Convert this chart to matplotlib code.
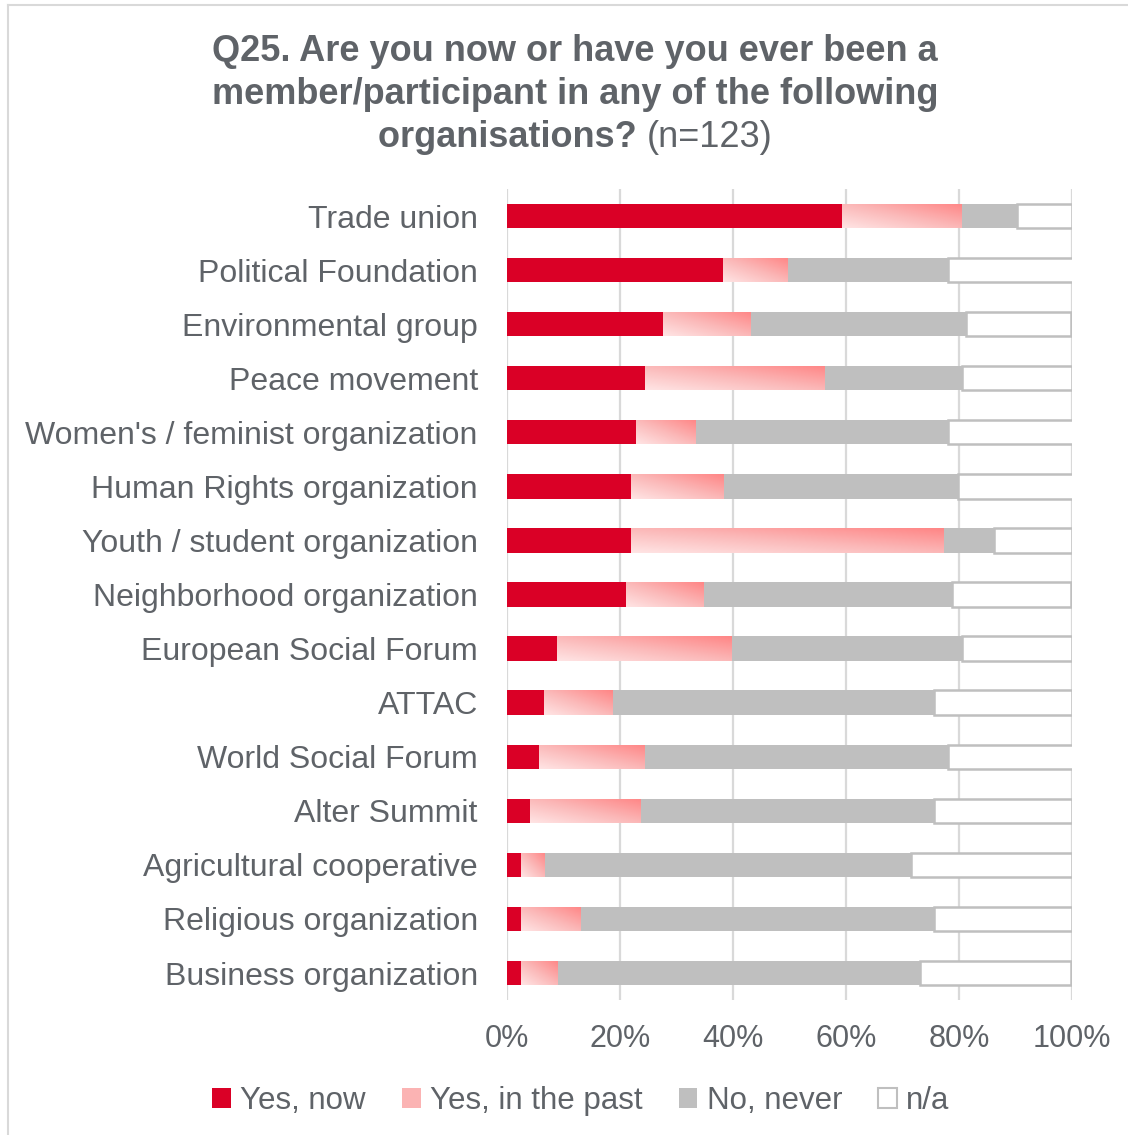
import numpy as np
import matplotlib
matplotlib.use("Agg")
import matplotlib.pyplot as plt
from matplotlib.colors import LinearSegmentedColormap
from matplotlib.patches import Patch
from matplotlib.lines import Line2D

# data (percent of n=123)
organisations = [
    "Trade union", "Political Foundation", "Environmental group", "Peace movement",
    "Women's / feminist organization", "Human Rights organization",
    "Youth / student organization", "Neighborhood organization",
    "European Social Forum", "ATTAC", "World Social Forum", "Alter Summit",
    "Agricultural cooperative", "Religious organization", "Business organization",
]
yes_now = [59.3, 38.2, 27.6, 24.4, 22.8, 22.0, 22.0, 21.1, 8.9, 6.5, 5.7, 4.1, 2.4, 2.4, 2.4]
yes_past = [21.1, 11.4, 15.4, 31.7, 10.6, 16.3, 55.3, 13.8, 30.9, 12.2, 18.7, 19.5, 4.1, 10.6, 6.5]
no_never = [9.8, 28.5, 38.2, 24.4, 44.7, 41.5, 8.9, 43.9, 40.7, 56.9, 53.7, 52.0, 65.0, 62.6, 64.2]
n_a = [9.8, 22.0, 18.7, 19.5, 22.0, 20.3, 13.8, 21.1, 19.5, 24.4, 22.0, 24.4, 28.5, 24.4, 26.8]
ticks = [0, 20, 40, 60, 80, 100]

RED = "#DA0026"
GREY = "#BFBFBF"
TEXT = "#5f6368"
past_cmap = LinearSegmentedColormap.from_list("past", ["#FFE4E4", "#FBB8B8", "#FF8686"])

plt.rcParams["font.family"] = ["Liberation Sans", "DejaVu Sans"]

fig = plt.figure(figsize=(11.28, 11.35), dpi=100)
ax = fig.add_axes([0.4495, 0.1189, 0.5009, 0.7146])

y = np.arange(len(organisations))
h = 0.45
left = np.zeros(len(y))

ax.barh(y, yes_now, height=h, left=left, color=RED, zorder=3)
left += yes_now
past_bars = ax.barh(y, yes_past, height=h, left=left, color="none", zorder=3)
left += yes_past
ax.barh(y, no_never, height=h, left=left, color=GREY, zorder=3)
left += no_never
ax.barh(y, n_a, height=h, left=left, color="white", edgecolor=GREY, linewidth=1.8, zorder=3)

# diagonal gradient fill for "Yes, in the past"
gy, gx = np.mgrid[0:1:32j, 0:1:64j]
grad = 0.5 * gx + 0.5 * (1 - gy)
for p in past_bars:
    x0, y0, w, hh = p.get_x(), p.get_y(), p.get_width(), p.get_height()
    im = ax.imshow(grad, cmap=past_cmap, extent=(x0, x0 + w, y0 + hh, y0),
                   origin="upper", aspect="auto", interpolation="bilinear", zorder=3)
    im.set_clip_path(p)

ax.set_xlim(0, 100)
ax.set_ylim(len(y) - 0.5, -0.5)
ax.set_yticks(y)
ax.set_yticklabels(organisations, fontsize=23, color=TEXT)
ax.set_xticks(ticks)
ax.set_xticklabels([f"{t}%" for t in ticks], fontsize=22, color=TEXT)
ax.tick_params(length=0)
ax.tick_params(axis="y", pad=21)
ax.tick_params(axis="x", pad=17)
ax.xaxis.grid(True, color="#D9D9D9", linewidth=1.6, zorder=0)
ax.set_axisbelow(True)
for s in ax.spines.values():
    s.set_visible(False)

# title
cx = 0.51
fig.text(cx, 0.955, "Q25. Are you now or have you ever been a", ha="center", va="center",
         fontsize=26, fontweight="bold", color=TEXT)
fig.text(cx, 0.917, "member/participant in any of the following", ha="center", va="center",
         fontsize=26, fontweight="bold", color=TEXT)
ta = fig.text(0, 0.879, "organisations? ", ha="left", va="center",
              fontsize=26, fontweight="bold", color=TEXT)
tb = fig.text(0, 0.879, "(n=123)", ha="left", va="center", fontsize=26, color=TEXT)
r = fig.canvas.get_renderer()
wa = ta.get_window_extent(r).width / fig.bbox.width
wb = tb.get_window_extent(r).width / fig.bbox.width
ta.set_x(cx - (wa + wb) / 2)
tb.set_x(cx - (wa + wb) / 2 + wa)

# legend
handles = [
    Patch(facecolor=RED, label="Yes, now"),
    Patch(facecolor="#FBB3B3", label="Yes, in the past"),
    Patch(facecolor=GREY, label="No, never"),
    Patch(facecolor="white", edgecolor=GREY, linewidth=1.5, label="n/a"),
]
fig.legend(handles=handles, loc="center", bbox_to_anchor=(0.515, 0.030), ncol=4, frameon=False,
           prop={"size": 22.5}, labelcolor=TEXT, handlelength=0.6,
           handleheight=0.6, handletextpad=0.3, columnspacing=1.15)

# chart border (left and top)
fig.add_artist(Line2D([8 / 1128, 8 / 1128], [0, 1 - 5 / 1135], color="#D9D9D9", linewidth=1.5))
fig.add_artist(Line2D([8 / 1128, 1], [1 - 5 / 1135, 1 - 5 / 1135], color="#D9D9D9", linewidth=1.5))

fig.savefig("out.png", dpi=100, facecolor="white")
